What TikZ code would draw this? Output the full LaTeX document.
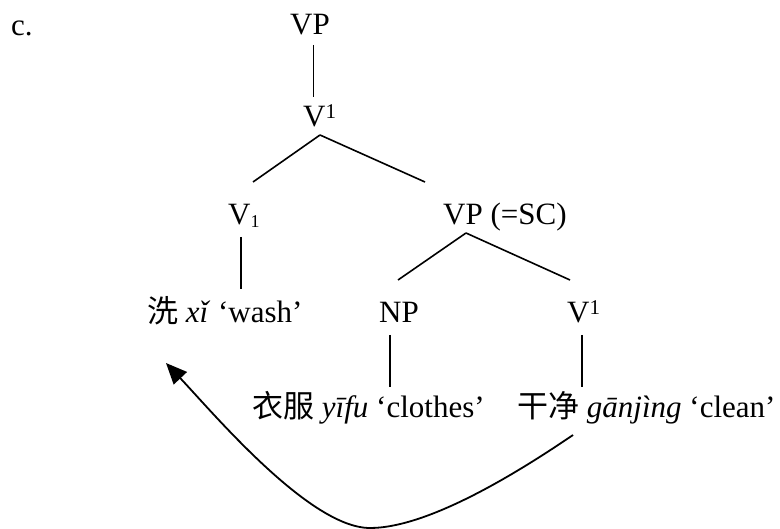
\documentclass[tikz,border=0pt]{standalone}
\usepackage{fontspec}
\setmainfont{Liberation Serif}
\newfontfamily\cjk{Noto Sans CJK SC}
\usetikzlibrary{arrows.meta}
\newcommand\supone{\raisebox{8pt}{\fontsize{21}{21}\selectfont 1}}
\newcommand\subone{\raisebox{-3pt}{\fontsize{18}{18}\selectfont 1}}
\begin{document}
\begin{tikzpicture}[x=1pt,y=-1pt,
  lab/.style={inner sep=0pt, anchor=base west, font=\fontsize{31}{37}\selectfont},
  edge/.style={line width=1.6pt},
  move/.style={line width=1.8pt, -{Triangle[length=21pt,width=18pt]}}]
\useasboundingbox (0,0) rectangle (780,529);
% labels
\node[lab] (c)    at (11,36)  {c.};
\node[lab] (vp)   at (290,35) {VP};
\node[lab] (vbar) at (303,127) {V\supone};
\node[lab] (v1)   at (228,225) {V\subone};
\node[lab] (sc)   at (443,225) {VP (=SC)};
\node[lab] (xi)   at (147,323) {{\cjk 洗} \textit{xǐ} `wash'};
\node[lab] (np)   at (379,323) {NP};
\node[lab] (vbar2) at (567,323) {V\supone};
\node[lab] (yifu) at (252,418) {{\cjk 衣服} \textit{yīfu} `clothes'};
\node[lab] (gj)   at (517,418) {{\cjk 干净} \textit{gānjìng} `clean'};
% connector ends
\coordinate (vp-s) at (313.5,45);
\coordinate (vbar-n) at (313.5,97);
\coordinate (vbar-s) at (320,135);
\coordinate (v1-n) at (253,182);
\coordinate (sc-n) at (425,182);
\coordinate (v1-s) at (241,237);
\coordinate (xi-n) at (241,289);
\coordinate (sc-s) at (466,233);
\coordinate (np-n) at (398,280);
\coordinate (vbar2-n) at (570,280);
\coordinate (np-s) at (390,335);
\coordinate (yifu-n) at (390,387);
\coordinate (vbar2-s) at (582,335);
\coordinate (gj-n) at (582,387);
\coordinate (gj-s) at (573,435);
\coordinate (low) at (370,528);
\coordinate (xi-s) at (166,363);
% tree
\draw[edge] (vp-s) -- (vbar-n);
\draw[edge] (vbar-s) -- (v1-n);
\draw[edge] (vbar-s) -- (sc-n);
\draw[edge] (v1-s) -- (xi-n);
\draw[edge] (sc-s) -- (np-n);
\draw[edge] (sc-s) -- (vbar2-n);
\draw[edge] (np-s) -- (yifu-n);
\draw[edge] (vbar2-s) -- (gj-n);
% movement arrow
\draw[move] (gj-s) .. controls (523,469) and (430,528) .. (low)
  .. controls (310,528) and (214,414) .. (xi-s);
\end{tikzpicture}
\end{document}
